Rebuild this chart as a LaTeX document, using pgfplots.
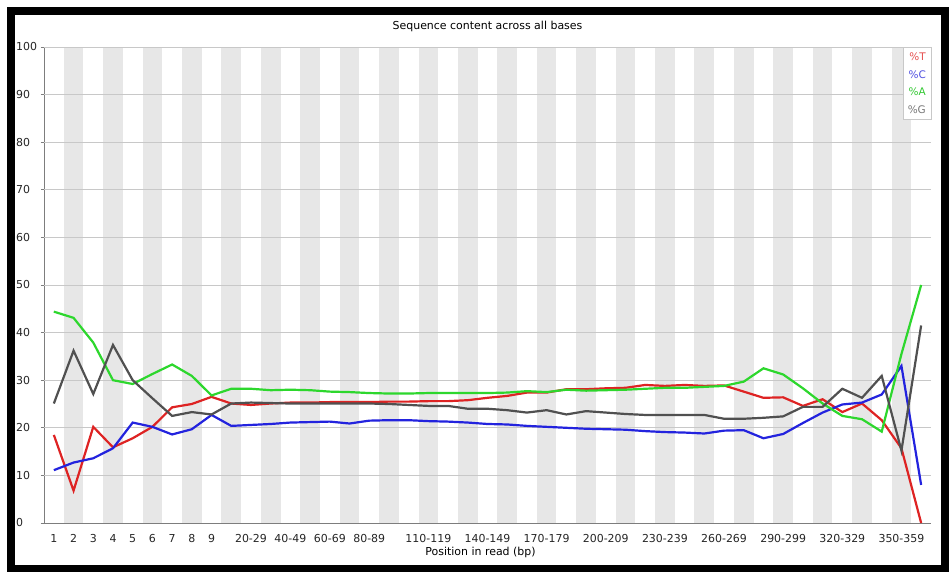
\documentclass[border=0pt]{standalone}
\usepackage{pgfplots}
\pgfplotsset{compat=1.18}
\usepackage{pgfplotstable}
\usepackage{fontspec}
\setmainfont{DejaVu Sans}
\definecolor{tred}{RGB}{222,35,35}
\definecolor{tblue}{RGB}{35,35,222}
\definecolor{tgreen}{RGB}{45,215,45}
\definecolor{tgray}{RGB}{80,80,80}
\definecolor{lred}{RGB}{230,80,80}
\definecolor{lblue}{RGB}{80,80,225}
\definecolor{lgreen}{RGB}{50,200,50}
\definecolor{lgray}{RGB}{120,120,120}
\definecolor{stripe}{RGB}{231,231,231}
\definecolor{gridc}{RGB}{200,200,200}
\definecolor{axisc}{RGB}{125,125,125}

\pgfplotstableread{
i T C A G
0 18.5 11.1 44.4 25.1
1 6.8 12.7 43.1 36.2
2 20.2 13.6 37.9 27.1
3 15.9 15.7 30.0 37.4
4 17.8 21.1 29.2 30.0
5 20.2 20.2 31.3 26.2
6 24.3 18.6 33.3 22.5
7 25.0 19.7 30.9 23.3
8 26.5 22.7 26.8 22.8
9 25.1 20.4 28.2 25.1
10 24.8 20.6 28.2 25.3
11 25.1 20.8 27.9 25.2
12 25.3 21.1 28.0 25.1
13 25.3 21.2 27.9 25.1
14 25.4 21.3 27.6 25.1
15 25.4 20.9 27.5 25.1
16 25.4 21.5 27.3 25.1
17 25.5 21.6 27.2 25.0
18 25.5 21.6 27.2 24.8
19 25.6 21.4 27.3 24.6
20 25.6 21.3 27.3 24.6
21 25.8 21.1 27.3 24.0
22 26.3 20.8 27.3 24.0
23 26.7 20.7 27.4 23.7
24 27.4 20.4 27.7 23.2
25 27.4 20.2 27.5 23.7
26 28.1 20.0 28.0 22.8
27 28.1 19.8 27.8 23.5
28 28.3 19.7 27.9 23.2
29 28.4 19.6 28.0 22.9
30 29.0 19.3 28.2 22.7
31 28.8 19.1 28.4 22.7
32 29.0 19.0 28.4 22.7
33 28.8 18.8 28.6 22.7
34 28.9 19.4 28.8 21.9
35 27.6 19.5 29.7 21.9
36 26.3 17.8 32.5 22.1
37 26.4 18.7 31.2 22.4
38 24.6 21.0 28.3 24.4
39 26.0 23.2 25.1 24.4
40 23.3 24.9 22.5 28.2
41 25.1 25.3 21.8 26.3
42 21.6 27.0 19.2 30.9
43 15.7 33.0 35.5 15.2
44 0.0 8.0 50.0 41.5
}\seqdata

\begin{document}
\begin{tikzpicture}
\useasboundingbox (0bp,0bp) rectangle (949bp,572bp);
\fill[white] (0bp,0bp) rectangle (949bp,572bp);
\begin{axis}[
  at={(44bp,49bp)}, anchor=south west,
  scale only axis, width=887bp, height=476bp,
  xmin=-0.5, xmax=44.5, ymin=0, ymax=100,
  clip=false,
  axis x line*=bottom, axis y line*=left,
  axis line style={draw=axisc, line width=0.9bp, -},
  ytick={0,10,...,100},
  xtick={0,1,2,3,4,5,6,7,8,10,12,14,16,19,22,25,28,31,34,37,40,43},
  xticklabels={1,2,3,4,5,6,7,8,9,20-29,40-49,60-69,80-89,110-119,140-149,170-179,200-209,230-239,260-269,290-299,320-329,350-359},
  xtick style={draw=none},
  ytick style={draw=axisc, line width=0.8bp},
  tick align=outside, major tick length=3bp,
  /pgf/number format/assume math mode=true,
  ticklabel style={font=\fontsize{11}{13}\selectfont, text=black!85},
  yticklabel style={anchor=west, inner sep=0pt, xshift=-25bp},
  xticklabel style={anchor=north, inner sep=0pt, yshift=-8bp},
  title={Sequence content across all bases},
  title style={at={(0.5,1)}, anchor=center, yshift=15bp, inner sep=0pt, font=\fontsize{11}{13}\selectfont},
  xlabel={Position in read (bp)},
  xlabel style={at={(0.5,0)}, anchor=center, yshift=-29bp, xshift=-7bp, inner sep=0pt, font=\fontsize{11}{13}\selectfont},
  legend image code/.code={},
  legend cell align=right,
  legend style={at={(1,1)}, anchor=north east, draw=gridc, fill=white,
    font=\fontsize{10.5}{12}\selectfont, inner xsep=5bp, inner ysep=6bp,
    row sep=10bp,
    nodes={inner sep=0pt, text height=7.5bp, text depth=0pt},
    /tikz/every even column/.append style={column sep=0pt}},
]
\pgfplotsinvokeforeach{1,3,...,43}{
  \fill[stripe] (axis cs:#1-0.5,0) rectangle (axis cs:#1+0.5,100);
}
\pgfplotsinvokeforeach{10,20,...,100}{
  \draw[gridc, line width=0.9bp] (axis cs:-0.5,#1) -- (axis cs:44.5,#1);
}
\addplot[tred, line width=2.2bp, mark=none] table[x=i, y=T]{\seqdata};
\addlegendentry{\textcolor{lred}{\%T}}
\addplot[tblue, line width=2.2bp, mark=none] table[x=i, y=C]{\seqdata};
\addlegendentry{\textcolor{lblue}{\%C}}
\addplot[tgreen, line width=2.2bp, mark=none] table[x=i, y=A]{\seqdata};
\addlegendentry{\textcolor{lgreen}{\%A}}
\addplot[tgray, line width=2.2bp, mark=none] table[x=i, y=G]{\seqdata};
\addlegendentry{\textcolor{lgray}{\%G}}
\end{axis}
\draw[black, line width=8bp] (11bp,3bp) rectangle (945bp,561bp);
\end{tikzpicture}
\end{document}
